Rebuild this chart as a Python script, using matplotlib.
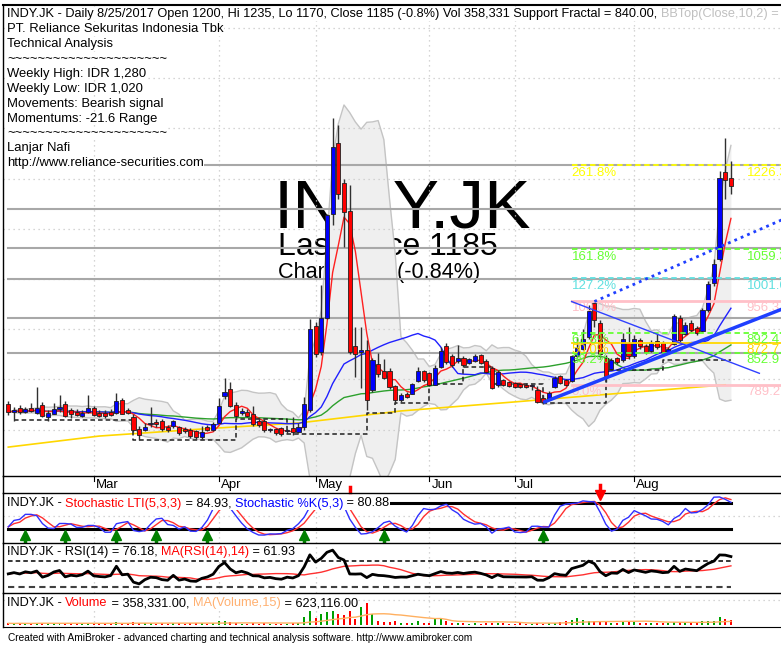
import numpy as np
import pandas as pd
import matplotlib
matplotlib.use("Agg")
import matplotlib.pyplot as plt

# ---- data (INDY.JK daily, Feb-Aug 2017) ----
opens = [750, 735, 742, 736, 742, 733, 748, 726, 732, 742, 750, 738, 735, 727, 736, 742, 733, 733, 735, 733,
         759, 738, 725, 701, 700, 712, 715, 716, 705, 707, 705, 701, 699, 696, 685, 705, 700, 714, 767, 780,
         748, 734, 735, 731, 716, 716, 699, 700, 702, 697, 702, 696, 705, 740, 905, 855, 922, 1131, 1270, 1190,
         1134, 865, 855, 858, 779, 829, 815, 815, 785, 760, 770, 772, 798, 815, 812, 790, 825, 865, 845, 838,
         842, 833, 838, 847, 836, 822, 789, 797, 793, 791, 790, 788, 787, 778, 762, 762, 785, 805, 797, 797,
         848, 862, 885, 952, 912, 842, 822, 841, 839, 872, 848, 878, 865, 858, 876, 872, 855, 872, 922, 892,
         912, 902, 898, 938, 992, 1040, 1212, 1200]
highs = [756, 745, 748, 745, 752, 785, 755, 738, 752, 768, 756, 742, 740, 738, 768, 746, 738, 738, 740, 773,
         762, 742, 730, 708, 712, 745, 720, 720, 710, 718, 708, 705, 703, 700, 708, 710, 714, 762, 802, 795,
         755, 742, 740, 747, 720, 720, 704, 703, 705, 702, 725, 712, 765, 920, 915, 988, 1130, 1320, 1307, 1200,
         1187, 905, 905, 878, 842, 852, 840, 822, 788, 772, 775, 792, 825, 818, 815, 828, 865, 873, 850, 868,
         846, 843, 850, 850, 840, 826, 818, 800, 797, 795, 793, 792, 790, 786, 768, 776, 806, 808, 800, 848,
         885, 900, 948, 957, 918, 848, 842, 845, 892, 905, 888, 882, 870, 878, 890, 876, 865, 930, 928, 915,
         918, 906, 942, 995, 1040, 1215, 1280, 1235]
lows = [728, 716, 730, 733, 735, 730, 725, 716, 730, 735, 725, 722, 727, 725, 733, 726, 724, 722, 727, 730,
        730, 730, 695, 679, 697, 705, 706, 698, 695, 703, 690, 694, 683, 682, 682, 698, 698, 712, 760, 745,
        722, 728, 724, 708, 706, 696, 695, 690, 688, 693, 690, 693, 700, 735, 845, 848, 920, 1107, 1160, 1064,
        850, 805, 782, 739, 775, 805, 800, 780, 752, 755, 762, 770, 795, 795, 786, 788, 822, 830, 825, 832,
        825, 830, 835, 830, 812, 780, 785, 786, 785, 783, 783, 783, 778, 752, 750, 758, 782, 790, 786, 795,
        842, 858, 880, 905, 840, 795, 818, 830, 835, 840, 843, 860, 850, 855, 860, 850, 850, 868, 875, 888,
        895, 888, 895, 935, 985, 1035, 1160, 1170]
closes = [735, 738, 735, 740, 738, 742, 728, 732, 740, 744, 728, 732, 730, 733, 742, 730, 728, 727, 730, 757,
          732, 734, 700, 690, 704, 713, 711, 702, 699, 716, 693, 697, 687, 685, 695, 700, 710, 747, 775, 747,
          727, 736, 727, 711, 710, 699, 701, 694, 691, 699, 695, 704, 750, 900, 852, 922, 1127, 1263, 1170, 1134,
          855, 852, 858, 759, 838, 811, 803, 785, 760, 768, 765, 789, 815, 800, 790, 822, 855, 835, 830, 842,
          829, 840, 846, 833, 815, 783, 813, 789, 788, 786, 786, 786, 788, 756, 755, 772, 802, 793, 789, 845,
          862, 880, 935, 918, 852, 808, 838, 835, 880, 848, 880, 868, 856, 872, 866, 856, 860, 925, 880, 908,
          900, 893, 938, 990, 1030, 1200, 1198, 1185]
# volume in thousands of shares
volume = [90, 70, 110, 60, 80, 140, 120, 70, 60, 90, 150, 80, 60, 50, 120, 90, 60, 70, 50, 160,
          140, 70, 180, 150, 80, 120, 60, 90, 70, 80, 110, 60, 130, 120, 90, 70, 100, 260, 230, 210,
          140, 70, 60, 110, 60, 90, 50, 60, 70, 50, 80, 90, 555, 1064, 532, 813, 935, 1064, 813, 760,
          1064, 433, 1315, 1619, 813, 304, 175, 228, 304, 152, 114, 152, 304, 152, 152, 532, 532, 304, 152, 114,
          152, 76, 114, 76, 152, 152, 114, 114, 76, 76, 114, 76, 76, 114, 76, 114, 114, 228, 304, 380,
          532, 380, 304, 266, 228, 190, 152, 152, 228, 228, 190, 152, 114, 114, 152, 114, 114, 228, 190, 114,
          152, 152, 266, 304, 266, 608, 433, 358]

month_names = ["Mar", "Apr", "May", "Jun", "Jul", "Aug"]
month_bars = [15, 37, 54, 74, 89, 110]

# long moving average (yellow) read at a few bars
ma200_bars = [0, 16, 34, 51, 69, 89, 104, 126]
ma200_vals = [665, 687, 701, 713, 737, 755, 769, 789]

# support fractal steps (start bar, level)
frac_bars = [1, 22, 40, 49, 63, 68, 74, 80, 85, 94, 105, 115, 127]
frac_vals = [718, 680, 720, 692, 732, 752, 790, 825, 790, 752, 818, 839, 839]

# horizontal grey levels
grey_levels = [1227.6, 1138.8, 1062.3, 1000.5, 922.8, 852.5]

# fibonacci levels
fib_pct = ["0.0%", "38.2%", "50.0%", "61.8%", "100.0%", "127.2%", "161.8%", "261.8%"]
fib_val = [789.2, 852.9, 872.7, 892.4, 956.3, 1001.6, 1059.3, 1226.3]
fib_col = ["#ffc0c8", "#66ff33", "#ffd700", "#66ff33", "#ffc0c8", "#60e0e0", "#66ff33", "#ffff00"]
fib_ls = ["-", "--", "-", "--", "-", "--", "--", "--"]
fib_start = 99

# trend lines (bar, price) end points
trend_up = ([94, 136], [754, 940])
trend_dot = ([103, 136], [955, 1118])
trend_down = ([99, 132], [955, 812])

buy_bars = [3, 10, 19, 26, 35, 52, 66, 94]
sell_bars = [104]

W, H = 781, 646
fig = plt.figure(figsize=(W / 100, H / 100), dpi=100)
FONT = "Liberation Sans"


def px_axes(x0, y0, x1, y1):
    return fig.add_axes([x0 / W, 1 - y1 / H, (x1 - x0) / W, (y1 - y0) / H])


n = len(closes)
idx = np.arange(n)
o = np.array(opens, float)
h = np.array(highs, float)
l = np.array(lows, float)
c = np.array(closes, float)
cs = pd.Series(c)
XL = (-0.93, 135.8)

ax = px_axes(3, 5, 781, 476)
ax_d = px_axes(3, 476, 781, 492.7)
ax_s = px_axes(3, 492.7, 781, 542.7)
ax_r = px_axes(3, 542.7, 781, 592.7)
ax_v = px_axes(3, 592.7, 781, 627)

for a in (ax, ax_d, ax_s, ax_r, ax_v):
    a.set_xlim(*XL)
    a.set_xticks([])
    a.set_yticks([])
    a.patch.set_alpha(0)
    a.spines["right"].set_visible(False)
    a.spines["bottom"].set_visible(False)
    a.spines["left"].set_linewidth(1.0)
    a.spines["top"].set_linewidth(1.0)
ax.spines["top"].set_linewidth(1.5)
ax_v.spines["bottom"].set_visible(True)

# ---- main price panel ----
ax.set_ylim(607.4, 1545.8)
for a in (ax, ax_s, ax_r, ax_v):
    for mb in month_bars:
        a.axvline(mb, color="#c8c8c8", lw=0.9, ls=(0, (1, 3)), zorder=1.5)
for p in range(700, 1501, 100):
    ax.axhline(p, color="#c8c8c8", lw=0.9, ls=(0, (1, 3)), zorder=1.5)
for g in grey_levels:
    ax.plot([0, XL[1]], [g, g], color="#a8a8a8", lw=1.5, zorder=1.6)

# watermark
ax.text(46.6, 1103, "INDY.JK", fontsize=50, family=FONT, va="baseline", ha="left", zorder=0.5)
ax.text(47.4, 1048, "Last Price 1185", fontsize=23, family=FONT, va="baseline", ha="left", zorder=0.5)
ax.text(47.4, 1002, "Change -10 (-0.84%)", fontsize=15.6, family=FONT, va="baseline", ha="left", zorder=0.5)

# bollinger bands
mid = cs.rolling(10, min_periods=2).mean()
sd = cs.rolling(10, min_periods=2).std(ddof=0)
bb_top = mid + 2 * sd
bb_bot = mid - 2 * sd
ax.fill_between(idx, bb_bot, bb_top, color="#efefef", zorder=1, lw=0)
ax.plot(idx, bb_top, color="#c4c4c4", lw=1, zorder=1.2)
ax.plot(idx, bb_bot, color="#c4c4c4", lw=1, zorder=1.2)

# moving averages
ax.plot(ma200_bars, ma200_vals, color="#ffd700", lw=1.2, zorder=3)
ax.plot(idx, cs.rolling(50, min_periods=1).mean(), color="#2ca02c", lw=1, zorder=3)
ax.plot(idx, cs.rolling(20, min_periods=1).mean(), color="#2020ff", lw=1, zorder=3)
ax.plot(idx, cs.rolling(5, min_periods=1).mean(), color="#ff2020", lw=1, zorder=3)

# support fractal
ax.plot(frac_bars, frac_vals, drawstyle="steps-post", color="#202020", lw=1.1, ls=(0, (3, 2)), zorder=3.2)

# candles
up = c >= o
ax.vlines(idx, l, h, color="#303030", lw=1, zorder=4)
ax.bar(idx, np.abs(c - o) + 1.5, bottom=np.minimum(o, c) - 0.75, width=0.72,
       color=np.where(up, "#0000ff", "#ff0000"), edgecolor="#202020", lw=0.6, zorder=4.2)

# fibonacci
for pct, val, col, ls in zip(fib_pct, fib_val, fib_col, fib_ls):
    lw = 2 if ls == "-" and col == "#ffc0c8" else 1.3
    ax.plot([fib_start, XL[1]], [val, val], color=col, ls=(0, (3, 2)) if ls == "--" else "-", lw=lw, zorder=4.5)
    ax.text(fib_start, val - 3, pct, color=col, fontsize=9.5, family=FONT, va="top", ha="left", zorder=4.6)
    ax.text(129.8, val - 3, f"{val:.1f}", color=col, fontsize=9.5, family=FONT, va="top", ha="left", zorder=4.6)

# trend lines
ax.plot(*trend_up, color="#1f3fff", lw=2.5, zorder=5, solid_capstyle="butt")
ax.plot(*trend_dot, color="#1f3fff", lw=2, ls=(0, (1, 1.5)), zorder=5)
ax.plot(*trend_down, color="#3040ff", lw=1, zorder=5)

# ---- date strip ----
ax_d.set_ylim(0, 1)
for mb, name in zip(month_bars, month_names):
    ax_d.plot([mb, mb], [1, 0.7], color="black", lw=0.8)
    ax_d.text(mb + 0.35, 0.45, name, fontsize=9.5, family=FONT, va="center", ha="left")

# ---- stochastic ----
hh = pd.Series(h).rolling(5, min_periods=1).max()
ll = pd.Series(l).rolling(5, min_periods=1).min()
fastk = (cs - ll) / (hh - ll) * 100
k53 = fastk.rolling(3, min_periods=1).mean()
lti = k53.rolling(3, min_periods=1).mean()
ax_s.set_ylim(-12, 104.7)
ax_s.axhline(50, color="#c8c8c8", lw=0.9, ls=(0, (1, 3)))
ax_s.plot([0, n - 1], [80, 80], color="black", lw=2.2, zorder=2)
ax_s.plot([0, n - 1], [20, 20], color="black", lw=2.2, zorder=2)
ax_s.plot(idx, lti, color="#ff3030", lw=1, zorder=3)
ax_s.plot(idx, k53, color="#3030ff", lw=1, zorder=3)
for b in buy_bars:
    ax_s.plot(b, 5, marker="^", color="#008000", ms=7, zorder=4)
    ax_s.plot([b, b], [2, -10], color="#008000", lw=2.5, zorder=4)
for b in sell_bars:
    ax_s.plot(b, 99, marker="v", color="#ff0000", ms=7, zorder=4, clip_on=False)
    ax_s.plot([b, b], [104, 122], color="#ff0000", lw=2.5, zorder=4, clip_on=False)
ax_s.plot([60, 60], [107, 118], color="#ff0000", lw=2.5, clip_on=False)

# ---- RSI (Wilder, seeded neutral from the first 14 changes) ----
delta = np.diff(c)
seed = np.mean(np.abs(delta[:14])) / 2
ag, al = seed, seed
rsi = [50.0]
for d in delta:
    ag = (ag * 13 + max(d, 0)) / 14
    al = (al * 13 + max(-d, 0)) / 14
    rsi.append(100 - 100 / (1 + ag / al))
rsi = pd.Series(rsi)
rsi_ma = rsi.rolling(14, min_periods=1).mean()
ax_r.set_ylim(20.7, 98.5)
ax_r.plot([0, n - 1], [70, 70], color="black", lw=1.1, ls=(0, (3, 2)))
ax_r.plot([0, n - 1], [30, 30], color="#404040", lw=1.5, ls=(0, (3, 2)))
ax_r.plot(idx, rsi_ma, color="#ff3030", lw=1, zorder=3)
ax_r.plot(idx, rsi, color="black", lw=2, zorder=3)

# ---- volume ----
vs = pd.Series(volume, dtype=float)
ax_v.set_ylim(-190, 2417)
ax_v.axhline(1900, color="#c8c8c8", lw=0.9, ls=(0, (1, 3)))
ax_v.bar(idx, vs, width=0.35, color=np.where(up, "#00a000", "#ff0000"), zorder=3)
ax_v.plot(idx, vs.rolling(15, min_periods=1).mean(), color="#ffb060", lw=1, zorder=3)

# ---- titles ----
renderer = fig.canvas.get_renderer()


def pieces(x, y, parts, fs=9.3, bg=True):
    for s, col in parts:
        t = fig.text(x / W, 1 - y / H, s, color=col, fontsize=fs, family=FONT,
                     va="center", ha="left", zorder=20)
        if bg:
            t.set_bbox(dict(facecolor="white", edgecolor="none", pad=0.4))
        x += t.get_window_extent(renderer).width


bb_last = bb_top.iloc[-1]
pieces(7, 14, [("INDY.JK - Daily 8/25/2017 Open 1200, Hi 1235, Lo 1170, Close 1185 (-0.8%) Vol 358,331 "
                "Support Fractal = 840.00, ", "black"),
               (f"BBTop(Close,10,2) = {bb_last:.2f}", "#c0c0c0")], fs=9.2)
tilde = "~" * 21
lines = ["PT. Reliance Sekuritas Indonesia Tbk", "Technical Analysis", tilde,
         "Weekly High: IDR 1,280", "Weekly Low: IDR 1,020", "Movements: Bearish signal",
         "Momentums: -21.6 Range", tilde, "Lanjar Nafi", "http://www.reliance-securities.com"]
for k, s in enumerate(lines):
    pieces(7, 29.2 + 14.9 * k, [(s, "black")], fs=9.4)

pieces(7, 503.5, [("INDY.JK - ", "black"), ("Stochastic LTI(5,3,3)", "#ff0000"), (" = 84.93, ", "black"),
                  ("Stochastic %K(5,3)", "#0000ff"), (" = 80.88", "black")], fs=9.2)
pieces(7, 552, [("INDY.JK - RSI(14) = 76.18, ", "black"), ("MA(RSI(14),14)", "#ff0000"), (" = 61.93", "black")],
       fs=9.1)
pieces(7, 603, [("INDY.JK - ", "black"), ("Volume", "#ff0000"), (" = 358,331.00, ", "black"),
                ("MA(Volume,15)", "#ffb070"), (" = 623,116.00", "black")], fs=9.2)
fig.text(8 / W, 1 - 638 / H, "Created with AmiBroker - advanced charting and technical analysis software. "
         "http://www.amibroker.com", fontsize=7.25, family=FONT, va="center", ha="left")

fig.savefig("out.png", dpi=100)
